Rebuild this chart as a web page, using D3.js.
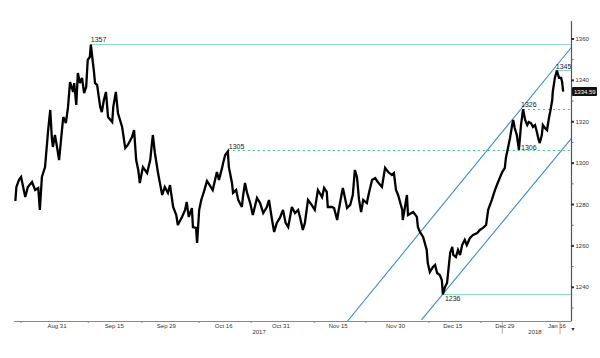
<!DOCTYPE html>
<html><head><meta charset="utf-8">
<script src="https://cdn.jsdelivr.net/npm/d3@7"></script>
<style>body{margin:0;background:#fff}svg{display:block}text{font-family:"Liberation Sans",Arial,sans-serif}</style>
</head><body><svg id="c" width="600" height="358"></svg>
<script>
// [trading day index (0 = Aug 21 2017), gold spot price]
const priceTrace = [[0,1281.7],[0.2,1288.5],[0.7,1291.9],[1.1,1293.3],[1.9,1283.6],[2.4,1288.5],[3.2,1290.9],[3.8,1287.0],[4.4,1288.0],[4.7,1277.4],[5.1,1293.3],[5.7,1298.1],[6.3,1316.0],[6.7,1325.7],[7.0,1312.6],[7.2,1307.8],[7.6,1313.6],[8.0,1307.8],[8.4,1301.5],[8.9,1314.6],[9.2,1322.3],[9.7,1319.4],[10.1,1326.7],[10.5,1339.2],[11.1,1334.4],[11.3,1338.7],[11.7,1328.1],[12.0,1343.6],[12.4,1338.7],[12.8,1341.2],[13.2,1333.9],[13.6,1336.8],[13.9,1349.9],[14.3,1351.3],[14.5,1357.3],[14.9,1348.4],[15.1,1344.1],[15.3,1338.7],[15.7,1337.8],[16.3,1327.1],[16.6,1324.7],[17.0,1330.5],[17.4,1334.4],[17.8,1322.3],[18.6,1319.9],[18.8,1327.1],[19.3,1334.4],[19.7,1324.2],[20.5,1317.5],[21.1,1307.3],[21.6,1308.8],[22.4,1312.6],[22.8,1316.0],[23.2,1301.5],[23.6,1296.7],[23.9,1290.4],[24.5,1298.1],[25.3,1295.2],[25.9,1301.5],[26.3,1311.2],[26.4,1313.6],[26.8,1304.9],[27.4,1295.2],[28.2,1284.6],[28.7,1288.5],[29.3,1285.6],[29.7,1289.4],[30.3,1278.8],[30.9,1274.9],[31.2,1270.1],[32.0,1274.0],[32.6,1277.4],[32.9,1281.2],[33.3,1274.0],[33.9,1278.3],[34.1,1269.1],[34.7,1268.7],[34.9,1261.4],[35.3,1277.4],[35.7,1282.2],[36.2,1286.1],[36.8,1291.4],[37.4,1289.0],[37.9,1287.0],[38.7,1295.7],[39.1,1291.9],[39.7,1297.7],[39.9,1300.1],[40.3,1303.9],[40.8,1305.6],[41.0,1298.1],[41.6,1290.4],[41.8,1285.6],[42.4,1287.0],[42.8,1282.2],[43.5,1278.8],[43.7,1283.6],[44.1,1290.4],[44.5,1285.6],[45.1,1280.7],[45.6,1274.9],[46.4,1283.2],[47.0,1280.7],[47.6,1275.9],[48.3,1278.8],[48.7,1282.2],[49.3,1272.5],[49.7,1266.7],[50.2,1271.1],[50.8,1273.5],[51.4,1277.4],[51.9,1271.1],[52.4,1269.1],[53.1,1278.8],[53.7,1275.9],[54.3,1277.4],[54.7,1273.5],[55.2,1267.7],[55.6,1271.1],[56.2,1282.2],[56.9,1279.8],[57.5,1277.4],[58.1,1287.0],[58.9,1283.6],[59.3,1288.0],[59.8,1286.1],[60.0,1278.8],[60.8,1278.8],[61.2,1278.3],[61.8,1272.5],[62.0,1275.9],[62.7,1285.6],[62.9,1288.0],[63.7,1278.3],[64.3,1279.8],[64.8,1284.6],[65.2,1296.7],[65.6,1293.3],[66.0,1282.2],[66.4,1276.4],[66.8,1282.2],[67.5,1280.7],[67.9,1285.6],[68.5,1291.9],[69.1,1292.8],[69.6,1290.9],[70.4,1288.5],[71.0,1297.7],[71.6,1295.7],[72.3,1294.3],[72.7,1295.2],[73.1,1287.0],[73.5,1284.6],[74.3,1277.4],[74.4,1272.5],[75.2,1284.6],[75.4,1274.9],[76.4,1276.4],[77.1,1274.0],[77.3,1269.1],[77.7,1266.7],[78.3,1264.3],[79.0,1258.0],[79.2,1251.7],[79.6,1247.4],[80.2,1249.8],[80.6,1250.8],[81.0,1246.9],[81.5,1245.9],[81.9,1243.5],[82.1,1236.6],[82.5,1240.1],[82.9,1242.1],[83.1,1246.9],[83.5,1256.6],[83.9,1259.5],[84.1,1255.6],[84.6,1254.6],[85.0,1258.0],[85.4,1255.6],[85.8,1260.4],[86.3,1262.9],[86.7,1260.4],[87.3,1263.8],[87.9,1265.3],[88.7,1266.2],[89.2,1267.7],[89.8,1268.7],[90.4,1270.1],[90.8,1277.4],[91.5,1282.2],[92.1,1287.0],[92.7,1290.9],[93.5,1295.7],[94.0,1297.7],[94.2,1302.5],[94.6,1307.3],[95.0,1312.2],[95.4,1318.4],[95.6,1320.9],[95.9,1317.0],[96.3,1313.6],[96.7,1306.4],[97.1,1318.4],[97.5,1326.0],[97.9,1320.9],[98.3,1318.4],[98.6,1319.9],[99.0,1319.4],[99.4,1317.5],[99.8,1318.4],[100.2,1314.6],[100.4,1312.2],[100.7,1309.7],[101.1,1313.6],[101.3,1318.4],[101.7,1317.0],[102.1,1316.0],[102.5,1322.3],[102.7,1324.7],[103.1,1330.5],[103.2,1334.4],[103.6,1341.2],[104.0,1344.8],[104.4,1341.2],[104.8,1341.2],[105.0,1339.2],[105.2,1334.59]];
const lastPrice = 1334.59;

const xTickDays = [8,19,29,40,51,62,73,84,94,104];
const xTickLabels = ["Aug 31","Sep 15","Sep 29","Oct 16","Oct 31","Nov 15","Nov 30","Dec 15","Dec 29","Jan 16"];
const xMinorTickDays = [1.1,14.0,24.3,35.3,45.3,57.4,67.3,79.4,89.4];
const yearLabels = ["2017","2018"];
const yearLabelDays = [46.8,99.8];
const yearSeparatorDays = [93.5,104.6];

const yMajorTicks = [1240,1260,1280,1300,1320,1340,1360];
const yMinorTicks = [1230,1250,1270,1290,1310,1330,1350];

// horizontal support/resistance levels
const solidLevelLabels = ["1357","1345","1236"];
const solidLevelValues = [1357.8,1344.8,1236.6];
const solidLevelFromDays = [14.3,103.6,82.1];
const dashedLevelLabels = ["1305","1326"];
const dashedLevelValues = [1306.2,1326.3];
const dashedLevelFromDays = [40.8,97.5];
const extraLabel = "1306";
const extraLabelDay = 97.1;
const extraLabelValue = 1306.2;

// trend channel (parallel lines) endpoints [day, price]
const channelUpper = [[63.8,1223.7],[106.8,1356.0]];
const channelLower = [[78.0,1224.2],[106.8,1312.0]];

const svg = d3.select("#c");
const L = 14, R = 571.5, T = 21, B = 321;
const x = d3.scaleLinear().domain([-0.26,106.8]).range([L,R]);
const y = d3.scaleLinear().domain([1223.7,1368.7]).range([B,T]);
const crisp = v => Math.round(v) + 0.5;

svg.append("defs").append("clipPath").attr("id","clip")
  .append("rect").attr("x",L).attr("y",T).attr("width",R-L).attr("height",B-T);

const plot = svg.append("g").attr("clip-path","url(#clip)");

solidLevelValues.forEach((v,i)=>{
  plot.append("line").attr("x1",x(solidLevelFromDays[i])).attr("x2",R)
    .attr("y1",crisp(y(v))).attr("y2",crisp(y(v))).attr("stroke","#8fdcc0").attr("stroke-width",1);
});
dashedLevelValues.forEach((v,i)=>{
  plot.append("line").attr("x1",x(dashedLevelFromDays[i])).attr("x2",R)
    .attr("y1",crisp(y(v))).attr("y2",crisp(y(v))).attr("stroke","#3fc487").attr("stroke-width",1)
    .attr("stroke-dasharray","2,3");
});

[channelUpper, channelLower].forEach(c=>{
  plot.append("line").attr("x1",x(c[0][0])).attr("y1",y(c[0][1]))
    .attr("x2",x(c[1][0])).attr("y2",y(c[1][1]))
    .attr("stroke","#3d8ccb").attr("stroke-width",1.1);
});

const line = d3.line().x(d=>x(d[0])).y(d=>y(d[1])).curve(d3.curveLinear);
plot.append("path").datum(priceTrace).attr("d",line)
  .attr("fill","none").attr("stroke","#000").attr("stroke-width",2.3)
  .attr("stroke-linejoin","miter").attr("stroke-miterlimit",3);

const lab = svg.append("g").attr("font-size",7).attr("fill","#222");
solidLevelLabels.forEach((t,i)=>{
  const below = t==="1236";
  lab.append("text").attr("x",x(solidLevelFromDays[i])+ (below?2:1))
    .attr("y",y(solidLevelValues[i]) + (below?7:-1.5)).text(t);
});
dashedLevelLabels.forEach((t,i)=>{
  lab.append("text").attr("x",x(dashedLevelFromDays[i])+ (t==="1326"?-2:1))
    .attr("y",y(dashedLevelValues[i]) - 1.5).text(t);
});
lab.append("text").attr("x",x(extraLabelDay)).attr("y",y(extraLabelValue)-0.5).text(extraLabel);

svg.append("line").attr("x1",R).attr("x2",R).attr("y1",T).attr("y2",B)
  .attr("stroke","#555").attr("stroke-width",1.2);
const ya = svg.append("g").attr("font-size",6).attr("fill","#333");
yMajorTicks.forEach(v=>{
  ya.append("rect").attr("x",R-0.5).attr("y",y(v)-1).attr("width",3).attr("height",2).attr("fill","#333");
  ya.append("text").attr("x",R+4).attr("y",y(v)).attr("dy","0.35em").text(v);
});
yMinorTicks.forEach(v=>{
  ya.append("line").attr("x1",R).attr("x2",R+2).attr("y1",y(v)).attr("y2",y(v)).attr("stroke","#666");
});

svg.append("rect").attr("x",R+0.5).attr("y",y(lastPrice)-4.5).attr("width",25).attr("height",9)
  .attr("rx",1).attr("fill","#111");
svg.append("text").attr("x",R+2.5).attr("y",y(lastPrice)).attr("dy","0.35em")
  .attr("font-size",6).attr("fill","#fff").text(lastPrice.toFixed(2));

svg.append("line").attr("x1",L).attr("x2",R).attr("y1",crisp(B)).attr("y2",crisp(B))
  .attr("stroke","#888").attr("stroke-width",1);
const xa = svg.append("g").attr("font-size",6).attr("fill","#333").attr("text-anchor","middle");
xTickDays.forEach((d,i)=>{
  xa.append("text").attr("x",x(d)).attr("y",B+6.5).text(xTickLabels[i]);
});
xMinorTickDays.forEach(d=>{
  svg.append("line").attr("x1",x(d)).attr("x2",x(d)).attr("y1",B).attr("y2",B+2).attr("stroke","#888");
});
yearLabels.forEach((t,i)=>{
  xa.append("text").attr("x",x(yearLabelDays[i])).attr("y",B+12.5).text(t);
});
yearSeparatorDays.forEach(d=>{
  svg.append("line").attr("x1",x(d)).attr("x2",x(d)).attr("y1",B).attr("y2",B+13)
    .attr("stroke","#999").attr("stroke-width",0.8);
});
svg.append("path").attr("d",d3.symbol().type(d3.symbolTriangle).size(5)())
  .attr("transform",`translate(${R+1.5},${B+8}) rotate(180)`).attr("fill","#333");
</script></body></html>
